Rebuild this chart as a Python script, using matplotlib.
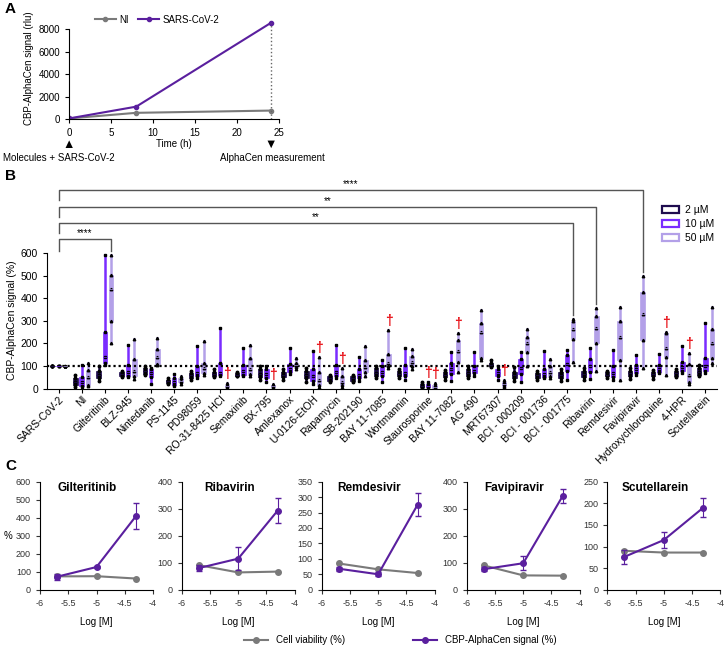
import matplotlib.pyplot as plt
from matplotlib.patches import Patch
from matplotlib.lines import Line2D
import matplotlib.transforms as mtransforms
import numpy as np

plt.rcParams['font.family'] = ['Liberation Sans', 'DejaVu Sans']

# ---------------- panel A data
time_h = [0, 8, 24]
ni_rlu = [50, 550, 750]
cov_rlu = [50, 1100, 8550]

# ---------------- panel B data (5 replicate values per group: min .. max)
drugs = ['SARS-CoV-2', 'NI', 'Gilteritinib', 'BLZ-945', 'Nintedanib', 'PS-1145',
         'PD98059', 'RO-31-8425 HCl', 'Semaxinib', 'BX-795', 'Amlexanox',
         'U-0126-EtOH', 'Rapamycin', 'SB-202190', 'BAY 11-7085', 'Wortmannin',
         'Staurosporine', 'BAY 11-7082', 'AG 490', 'MRT67307', 'BCI - 000209',
         'BCI - 001736', 'BCI - 001775', 'Ribavirin', 'Remdesivir', 'Favipiravir',
         'Hydroxychloroquine', '4-HPR', 'Scutellarein']

sig_2uM = [[100, 100, 100, 100, 100], [8, 15, 30, 45, 60], [35, 45, 60, 80, 100],
           [50, 55, 65, 75, 80], [60, 65, 80, 90, 100], [22, 25, 32, 38, 45],
           [40, 48, 60, 70, 78], [50, 55, 65, 75, 85], [55, 58, 62, 68, 72],
           [40, 50, 65, 85, 100], [40, 50, 60, 75, 88], [30, 45, 60, 80, 90],
           [30, 35, 45, 55, 60], [28, 35, 45, 55, 62], [45, 55, 70, 90, 100],
           [45, 55, 65, 80, 88], [2, 5, 10, 20, 28], [40, 50, 60, 75, 82],
           [45, 55, 70, 85, 100], [95, 100, 105, 115, 125], [35, 45, 60, 75, 95],
           [38, 45, 60, 70, 80], [35, 45, 60, 75, 85], [40, 50, 65, 80, 92],
           [48, 55, 62, 72, 78], [42, 55, 70, 80, 90], [42, 55, 65, 75, 82],
           [50, 58, 70, 80, 88], [55, 62, 75, 90, 103]]
sig_10uM = [[100, 100, 100, 100, 100], [9, 12, 30, 53, 105], [105, 115, 140, 250, 590],
            [50, 58, 75, 105, 195], [20, 50, 70, 85, 92], [12, 18, 30, 45, 65],
            [45, 55, 70, 100, 190], [55, 60, 70, 115, 270], [55, 62, 80, 105, 178],
            [30, 45, 65, 85, 102], [65, 75, 85, 110, 182], [20, 35, 55, 85, 168],
            [45, 55, 75, 105, 195], [35, 45, 60, 85, 140], [30, 55, 75, 100, 125],
            [40, 55, 70, 105, 180], [2, 5, 10, 20, 28], [35, 65, 85, 115, 160],
            [57, 70, 80, 100, 160], [40, 55, 70, 88, 98], [30, 65, 90, 130, 162],
            [48, 52, 65, 85, 165], [40, 80, 110, 150, 172], [42, 75, 100, 130, 180],
            [38, 50, 70, 100, 170], [60, 70, 85, 105, 148], [68, 75, 85, 105, 155],
            [70, 80, 95, 118, 190], [70, 80, 100, 135, 290]]
sig_50uM = [[100, 100, 100, 100, 100], [11, 16, 50, 82, 115], [200, 300, 440, 505, 590],
            [42, 55, 80, 130, 220], [105, 110, 140, 175, 225], [22, 28, 35, 48, 58],
            [60, 70, 90, 115, 210], [2, 5, 10, 18, 25], [55, 65, 85, 135, 195],
            [2, 6, 10, 15, 20], [85, 95, 105, 115, 135], [8, 15, 40, 75, 140],
            [8, 15, 30, 55, 90], [55, 75, 95, 125, 188], [90, 100, 115, 155, 260],
            [85, 100, 120, 145, 175], [2, 4, 8, 15, 25], [75, 120, 165, 215, 245],
            [125, 135, 250, 290, 350], [5, 10, 20, 30, 40], [100, 160, 200, 230, 262],
            [45, 55, 75, 100, 130], [120, 220, 265, 300, 310], [80, 200, 270, 320, 355],
            [40, 125, 230, 300, 360], [92, 215, 330, 430, 500], [60, 140, 180, 245, 252],
            [20, 30, 60, 110, 158], [112, 135, 200, 265, 360]]

# toxic conditions (dagger) per concentration
toxic_10uM = [16]
toxic_50uM = [7, 9, 11, 12, 14, 16, 17, 19, 26, 27]

# significance vs SARS-CoV-2 (drug index, label)
comparisons = [(2, '****'), (22, '**'), (23, '**'), (25, '****')]

# ---------------- panel C data
log_m = [-5.699, -5.0, -4.301]
c_drugs = ['Gilteritinib', 'Ribavirin', 'Remdesivir', 'Favipiravir', 'Scutellarein']
viability = [[74, 75, 62], [91, 64, 67], [85, 66, 54], [90, 53, 52], [90, 86, 86]]
signal = [[72, 126, 409], [80, 115, 293], [68, 50, 276], [76, 98, 347], [76, 115, 190]]
signal_err = [[17, 8, 74], [12, 42, 45], [6, 7, 37], [8, 26, 26], [17, 19, 22]]
c_ymax = [600, 400, 350, 400, 250]
c_ystep = [100, 100, 50, 100, 50]

fig = plt.figure(figsize=(7.24, 6.46), dpi=100)

def px(x, y, w, h):
    return [x / 724, 1 - (y + h) / 646, w / 724, h / 646]

gray = '#7a7a7a'
purple = '#5a1f9e'
dark = '#1f0c4f'
violet = '#7a2cff'
lav = '#b3a0e8'

# ================= A
axA = fig.add_axes(px(69, 18, 210, 101))
axA.plot(time_h, ni_rlu, color=gray, lw=1.5, marker='o', ms=3, label='NI')
axA.plot(time_h, cov_rlu, color=purple, lw=1.5, marker='o', ms=3, label='SARS-CoV-2')
axA.plot([time_h[-1], time_h[-1]], [0, cov_rlu[-1]], color='#666666', lw=1, ls=':')
axA.set_xlim(0, 25)
axA.set_ylim(0, 9000)
axA.set_xticks([0, 5, 10, 15, 20, 25])
axA.set_yticks([0, 2000, 4000, 6000, 8000])
axA.spines['top'].set_visible(False)
axA.spines['right'].set_visible(False)
axA.spines['left'].set_bounds(0, 8000)
axA.tick_params(labelsize=7, length=3, width=0.8)
axA.set_xlabel('Time (h)', fontsize=7, labelpad=1)
axA.set_ylabel('CBP-AlphaCen signal (rlu)', fontsize=7, labelpad=3)
axA.legend(loc='upper left', bbox_to_anchor=(0.08, 1.12), ncol=2, frameon=False,
           fontsize=7, handlelength=2.2, columnspacing=1.0, handletextpad=0.3)
trA = mtransforms.blended_transform_factory(axA.transData, axA.transAxes)
axA.text(0, -0.26, '\u25B2', transform=trA, ha='center', va='center', fontsize=9)
axA.text(24, -0.26, '\u25BC', transform=trA, ha='center', va='center', fontsize=9)
fig.text(3 / 724, 1 - 158 / 646, 'Molecules + SARS-CoV-2', fontsize=7, va='center')
fig.text(272 / 724, 1 - 158 / 646, 'AlphaCen measurement', fontsize=7, va='center', ha='center')

# ================= B
axB = fig.add_axes(px(47, 181, 670, 207.6))
x = np.arange(len(drugs))
offs = [-0.27, 0.0, 0.28]
cols = [dark, violet, lav]
marks = ['o', 's', '^']
sets = [sig_2uM, sig_10uM, sig_50uM]
for k in range(3):
    bp = axB.boxplot(sets[k], positions=x + offs[k], widths=0.19, whis=(0, 100),
                     patch_artist=True, showfliers=False, showcaps=False,
                     manage_ticks=False)
    for b in bp['boxes']:
        b.set_facecolor(cols[k])
        b.set_edgecolor(cols[k])
        b.set_linewidth(0.5)
    for w in bp['whiskers']:
        w.set_color(cols[k])
        w.set_linewidth(1.8)
    for m in bp['medians']:
        m.set_color(cols[k])
        m.set_linewidth(0.5)
    for i, vals in enumerate(sets[k]):
        axB.plot([x[i] + offs[k]] * len(vals), vals, ls='none', marker=marks[k],
                 ms=1.8, color='black')

for i in toxic_10uM:
    axB.text(x[i] + offs[1], max(sig_10uM[i]) + 40, '\u2020', color='#e8141b',
             ha='center', va='center', fontsize=10, fontweight='bold')
for i in toxic_50uM:
    axB.text(x[i] + offs[2], max(sig_50uM[i]) + 40, '\u2020', color='#e8141b',
             ha='center', va='center', fontsize=10, fontweight='bold')

axB.plot([-0.5, 28.5], [100, 100], color='black', lw=1.6, ls=(0, (1, 1.3)))

levels = [663, 733, 806, 880]
for (idx, lab), yl in zip(comparisons, levels):
    xr = x[idx] + offs[2]
    if idx == 2:
        ylo_l, ylo_r = 610, 610
    else:
        ylo_l, ylo_r = yl - 44, max(sig_50uM[idx]) + 18
    axB.plot([x[0], x[0], xr, xr], [ylo_l, yl, yl, ylo_r], color='#555555', lw=1)
    axB.text((x[0] + xr) / 2, yl + 4, lab, ha='center', va='bottom', fontsize=7)

axB.set_xlim(-0.5, 28.5)
axB.set_ylim(0, 920)
axB.set_yticks(range(0, 601, 100))
axB.set_xticks(x)
axB.set_xticklabels(drugs, rotation=45, ha='right', rotation_mode='anchor', fontsize=7.5)
axB.spines['top'].set_visible(False)
axB.spines['right'].set_visible(False)
axB.spines['left'].set_bounds(0, 600)
axB.tick_params(labelsize=7.5, length=3, width=0.8)
axB.tick_params(axis='x', pad=1)
axB.set_ylabel('CBP-AlphaCen signal (%)', fontsize=7.5, labelpad=3)
axB.yaxis.set_label_coords(-0.045, 0.33)
hB = [Patch(facecolor='white', edgecolor=c, lw=1.6, label=l)
      for c, l in zip(cols, ['2 \u00b5M', '10 \u00b5M', '50 \u00b5M'])]
axB.legend(handles=hB, loc='upper right', bbox_to_anchor=(1.01, 0.93), frameon=False,
           fontsize=7.5, handlelength=1.6, handleheight=0.6, labelspacing=0.4,
           handletextpad=0.6)

# ================= C
c_lefts = [40, 181.7, 321.7, 466.7, 607.3]
for j in range(5):
    ax = fig.add_axes(px(c_lefts[j], 481.7, 113, 108))
    ax.plot(log_m, viability[j], color=gray, lw=1.5, marker='o', ms=4)
    ax.errorbar(log_m, signal[j], yerr=signal_err[j], color=purple, lw=1.5,
                marker='o', ms=4, elinewidth=0.8, capsize=2)
    ax.set_xlim(-6, -4)
    ax.set_ylim(0, c_ymax[j])
    ax.set_xticks([-6, -5.5, -5, -4.5, -4])
    ax.set_xticklabels(['-6', '-5.5', '-5', '-4.5', '-4'])
    ax.set_yticks(np.arange(0, c_ymax[j] + 1, c_ystep[j]))
    ax.spines['top'].set_visible(False)
    ax.spines['right'].set_visible(False)
    ax.tick_params(labelsize=6.5, length=3, width=0.8, colors='#333333')
    ax.set_xlabel('Log [M]', fontsize=7, labelpad=7)
    ax.text(0.42, 1.0, c_drugs[j], transform=ax.transAxes, ha='center', va='top',
            fontsize=8.5, fontweight='bold')

fig.text(8 / 724, 1 - 536 / 646, '%', fontsize=7, ha='center', va='center')

hC = [Line2D([], [], color=gray, lw=1.5, marker='o', ms=4, label='Cell viability (%)'),
      Line2D([], [], color=purple, lw=1.5, marker='o', ms=4, label='CBP-AlphaCen signal (%)')]
fig.legend(handles=hC, loc='center', bbox_to_anchor=(400 / 724, 1 - 640 / 646), ncol=2,
           frameon=False, fontsize=7, handlelength=2.5, columnspacing=7)

fig.text(5 / 724, 1 - 9 / 646, 'A', fontsize=11, fontweight='bold', va='center')
fig.text(5 / 724, 1 - 176 / 646, 'B', fontsize=11, fontweight='bold', va='center')
fig.text(5 / 724, 1 - 466 / 646, 'C', fontsize=11, fontweight='bold', va='center')

fig.savefig('out.png', dpi=100)
